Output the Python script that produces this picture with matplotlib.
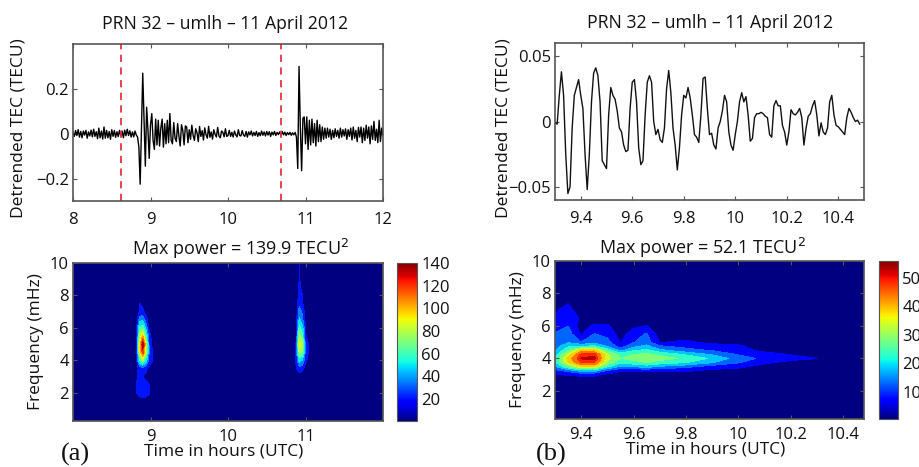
import numpy as np
import matplotlib
matplotlib.use('Agg')
import matplotlib.pyplot as plt
from matplotlib.cm import ScalarMappable
from matplotlib.colors import Normalize

plt.rcParams['font.family'] = ['Open Sans', 'DejaVu Sans']

W, H = 920, 467
title_top = 'PRN 32 \u2013 umlh \u2013 11 April 2012'
title_a = 'Max power = 139.9 TECU$^{2}$'
title_b = 'Max power = 52.1 TECU$^{2}$'

# detrended TEC in 0.001 TECU, one value per minute from 8 to 12 UT
tec_a = [5,-12,14,-8,18,-15,10,-18,12,-6,15,-20,8,-10,16,-14,20,-12,9,-22,25,-18,12,-24,30,-20,15,-18,10,-25,
         18,-12,14,-16,9,-13,15,-10,12,-18,16,-9,20,-8,13,-15,8,-14,12,-6,
         -15,-60,-225,30,270,60,-145,118,20,-110,
         40,90,-30,-70,65,-50,60,-55,25,65,-60,45,-45,60,-40,90,-30,-45,50,-20,-35,45,-10,-55,40,15,-50,35,30,-40,
         18,-25,38,-8,-30,22,5,-35,32,-12,14,-28,26,-5,-20,33,-16,8,-24,18,-3,-15,28,-10,-18,12,6,-14,22,-12,
         -8,15,-12,6,-15,12,-5,-14,18,-8,-10,14,-6,-12,10,-15,8,-5,12,-10,6,-8,10,-12,5,-9,12,-7,8,-10,10,-6,9,-12,7,-5,10,-8,6,-4,8,
         -6,9,-5,7,-8,5,-4,6,-7,4,-5,6,
         -15,-155,300,30,-165,70,75,-45,75,-70,60,-50,65,-40,45,-55,60,-35,40,-35,30,-25,25,
         -20,25,-15,20,-25,15,-18,22,-12,15,-20,25,-15,18,-10,22,-25,18,-12,25,-28,30,-20,15,-35,28,-15,30,-40,25,
         -30,38,-20,30,-45,35,-25,55,-30,20,-40,60,-35,25,-8]

# detrended TEC in 0.001 TECU, one value per 30 s from 9.3 UT
tec_b = [-1,-2,20,38,20,-25,-55,-50,-5,20,26,32,20,10,-25,-52,-25,15,37,41,35,15,-30,-33,-36,5,26,20,17,8,
         -5,-8,-18,-23,-22,10,30,32,15,-20,-33,-30,5,30,35,30,0,-10,-6,-14,-16,-5,25,39,22,-5,-18,-37,-20,5,
         20,18,26,18,5,-10,-12,-16,5,33,34,10,-10,-9,-18,-21,-5,0,8,20,15,-8,-18,-22,-10,0,15,22,15,19,
         5,-15,-13,3,6,6,7,6,4,3,-10,-12,12,16,12,12,-3,-8,-18,-8,9,6,5,7,10,3,-18,-5,4,6,
         12,16,5,-11,-1,-8,-10,-5,15,20,5,-3,-4,-6,-8,-10,3,10,7,3,0,1,-2]

event_lines = [8.625, 10.69]

# power grid, panel (a)
time_a = [8.0, 8.78, 8.82, 8.86, 8.9, 8.94, 8.98, 9.02, 9.06, 9.5, 10.5,
          10.84, 10.88, 10.92, 10.96, 11.0, 11.04, 11.08, 12.0]
freq_a = [0.27, 1.5, 2, 2.5, 3, 3.5, 4, 4.5, 5, 5.5, 6, 6.5, 7, 7.5, 8, 8.5, 9, 9.5, 10]
power_a = [
    [0,0,0,0,0,0,0,0,0,0,0, 0,0,0,0,0,0,0,0],
    [0,2,5,8,9,8,5,3,1,0,0, 0,0,0,0,0,0,0,0],
    [0,3,14,20,20,20,16,8,2,0,0, 0,0,1,1,0,0,0,0],
    [0,3,14,19,19,18,15,6,2,0,0, 0,1,3,2,1,0,0,0],
    [0,3,13,17,14,10,7,3,1,0,0, 1,3,6,5,3,1,0,0],
    [0,3,10,18,20,18,10,6,2,0,0, 2,14,22,18,8,3,1,0],
    [0,4,12,55,75,50,25,16,5,0,0, 3,16,48,40,18,8,2,0],
    [0,5,12,85,120,80,30,15,5,0,0, 3,18,75,68,24,14,3,0],
    [0,5,12,90,139,85,28,13,4,0,0, 3,16,90,80,22,14,3,0],
    [0,4,11,75,100,60,22,8,3,0,0, 2,12,75,60,16,7,2,0],
    [0,3,10,60,65,40,13,5,2,0,0, 2,8,60,48,14,3,1,0],
    [0,3,8,35,40,22,7,3,1,0,0, 1,6,45,32,10,2,0,0],
    [0,2,4,16,18,8,3,1,0,0,0, 1,5,35,25,7,1,0,0],
    [0,1,2,14.5,10,4,1,0,0,0,0, 0,4,24,16,4,0,0,0],
    [0,0,1,8,6,2,0,0,0,0,0, 0,3,20,14,3,0,0,0],
    [0,0,0,1,1,0,0,0,0,0,0, 0,2,16,11,2,0,0,0],
    [0,0,0,0,0,0,0,0,0,0,0, 0,2,15,9,1,0,0,0],
    [0,0,0,0,0,0,0,0,0,0,0, 0,1,15,7,1,0,0,0],
    [0,0,0,0,0,0,0,0,0,0,0, 0,1,15,6,1,0,0,0],
]

# power grid, panel (b)
time_b = [9.3, 9.35, 9.4, 9.45, 9.5, 9.55, 9.6, 9.65, 9.7, 9.8, 9.9, 10.0, 10.1, 10.2, 10.3, 10.4, 10.48]
freq_b = [0.27, 2, 2.5, 3, 3.25, 3.5, 3.75, 4, 4.25, 4.5, 4.75, 5, 5.5, 6, 6.5, 7, 7.5, 8, 10]
power_b = [
    [0,0,0,0,0,0,0,0,0,0,0,0,0,0,0,0,0],
    [1,1,1,1,1,1,1,1,1,0,0,0,0,0,0,0,0],
    [2,2,2,2,1,1,1,1,1,1,1,1,0,0,0,0,0],
    [5,5.5,6,6,4,3,3,3,3,3,2,2,1,1,0,0,0],
    [9,12,18,18,10,6,6,6,6,6,4,4,2,1,1,0,0],
    [15,26,36,36,22,15,16,18,15,12,8,6,4,2,1,1,0],
    [20,36,47,47,30,22,24,26,24,21,16,11,6,4,3,1,1],
    [21,38,51,52,33,26,28,30,28,25,20,13,9,6.5,5.3,3,2],
    [18,33,48,49,32,24,26,27,25,20,15,10,7,5,3,1,1],
    [15,25,38,38,24,14,20,22,17,12,10,7,4,3,2,1,0],
    [13,20,20,22,15,8,14,17,11,9,7,6,3,2,1,0,0],
    [13,15,10.5,14,12,5,10,13,5,6,4,4,2,1,0,0,0],
    [11,13,4.5,10.6,9,3,8,11,3,3,2,2,1,0,0,0,0],
    [8,10.4,3,6,6,2,4,5.5,2,1,1,1,0,0,0,0,0],
    [5.5,8,4.5,2,2,1,2,1,1,0,0,0,0,0,0,0,0],
    [4.5,7,2,1,1,0,1,0,0,0,0,0,0,0,0,0,0],
    [1,4.5,1,0,0,0,0,0,0,0,0,0,0,0,0,0,0],
    [0,1,0,0,0,0,0,0,0,0,0,0,0,0,0,0,0],
    [0,0,0,0,0,0,0,0,0,0,0,0,0,0,0,0,0],
]

# the lowest band starts below zero so its colour is the bottom of the colormap
levels_a = [-14, 14, 28, 42, 56, 70, 84, 98, 112, 126, 140]
levels_b = [-5.2, 5.2, 10.4, 15.6, 20.8, 26, 31.2, 36.4, 41.6, 46.8, 50.5, 56]
spine = '#555555'
fs = 12


def make_axes(left, top, right, bottom):
    return fig.add_axes([left/W, 1-bottom/H, (right-left)/W, (bottom-top)/H])


def style(ax, xpad):
    for s in ax.spines.values():
        s.set_color(spine)
        s.set_linewidth(1.2)
    ax.tick_params(direction='in', length=3, width=0.8, color=spine, top=True, right=True,
                   labelsize=fs, labelcolor='#111111')
    ax.tick_params(axis='x', pad=xpad)
    ax.tick_params(axis='y', pad=3)


def power_panel(ax, cax, t, f, p, levels, vmin, vmax, cticks):
    norm = Normalize(vmin, vmax)
    ax.contourf(t, f, np.array(p), levels=levels, cmap='jet', norm=norm)
    cb = fig.colorbar(ScalarMappable(norm=norm, cmap='jet'), cax=cax)
    cb.set_ticks(cticks)
    cb.ax.tick_params(length=0, labelsize=fs, pad=3, labelcolor='#111111')
    cb.outline.set_edgecolor(spine)
    ax.set_yticks([2, 4, 6, 8, 10])
    ax.set_ylim(0.27, 10)
    style(ax, 6)


fig = plt.figure(figsize=(W/100, H/100), dpi=100)

# top left
ax1 = make_axes(73, 44, 383, 201)
ax1.plot(np.linspace(8, 12, len(tec_a)), np.array(tec_a)/1000, color='k', lw=1)
for t in event_lines:
    ax1.axvline(t, color='#e8333c', ls=(0, (4, 3)), lw=1.3)
ax1.set_xlim(8, 12)
ax1.set_ylim(-0.3, 0.4)
ax1.set_xticks([8, 9, 10, 11, 12])
ax1.set_xticklabels(['8', '9', '10', '11', '12'])
ax1.set_yticks([-0.2, 0, 0.2])
ax1.set_yticklabels(['\u22120.2', '0', '0.2'])
style(ax1, 8)

# top right
ax2 = make_axes(555, 43, 864, 200)
ax2.plot(9.3 + np.arange(len(tec_b))/120, np.array(tec_b)/1000, color='#111111', lw=1)
ax2.set_xlim(9.3, 10.5)
ax2.set_ylim(-0.06, 0.06)
ax2.set_xticks([9.4, 9.6, 9.8, 10, 10.2, 10.4])
ax2.set_xticklabels(['9.4', '9.6', '9.8', '10', '10.2', '10.4'])
ax2.set_yticks([-0.05, 0, 0.05])
ax2.set_yticklabels(['\u22120.05', '0', '0.05'])
style(ax2, 8)

# bottom left
ax3 = make_axes(73, 263, 383, 421)
cax3 = make_axes(397, 263, 417, 421)
power_panel(ax3, cax3, time_a, freq_a, power_a, levels_a, 0.7, 140, range(20, 141, 20))
ax3.set_xlim(8, 12)
ax3.set_xticks([9, 10, 11])
ax3.set_xticklabels(['9', '10', '11'])

# bottom right
ax4 = make_axes(555, 261, 864, 419)
cax4 = make_axes(879, 261, 898, 419)
power_panel(ax4, cax4, time_b, freq_b, power_b, levels_b, 0.5, 55.9, [10, 20, 30, 40, 50])
ax4.set_xlim(9.3, 10.48)
ax4.set_xticks([9.4, 9.6, 9.8, 10, 10.2, 10.4])
ax4.set_xticklabels(['9.4', '9.6', '9.8', '10', '10.2', '10.4'])

# titles and labels placed by hand, they sit tighter than the defaults
def label(x, y, s, **kw):
    fig.text(x/W, 1-y/H, s, ha='center', va='center', color='#111111', **kw)


label(225, 24, title_top, fontsize=12.7)
label(710, 23, title_top, fontsize=12.7)
label(241, 249, title_a, fontsize=13)
label(702, 248, title_b, fontsize=13)
label(19, 128, 'Detrended TEC (TECU)', fontsize=12.5, rotation=90)
label(504, 128, 'Detrended TEC (TECU)', fontsize=12.5, rotation=90)
label(36, 342, 'Frequency (mHz)', fontsize=12.5, rotation=90)
label(518, 340, 'Frequency (mHz)', fontsize=12.5, rotation=90)
label(224, 452, 'Time in hours (UTC)', fontsize=12.5)
label(706, 450, 'Time in hours (UTC)', fontsize=12.5)
label(75, 454, '(a)', fontsize=19, family='Liberation Serif')
label(551, 454, '(b)', fontsize=19, family='Liberation Serif')

fig.savefig('out.png', dpi=100)
